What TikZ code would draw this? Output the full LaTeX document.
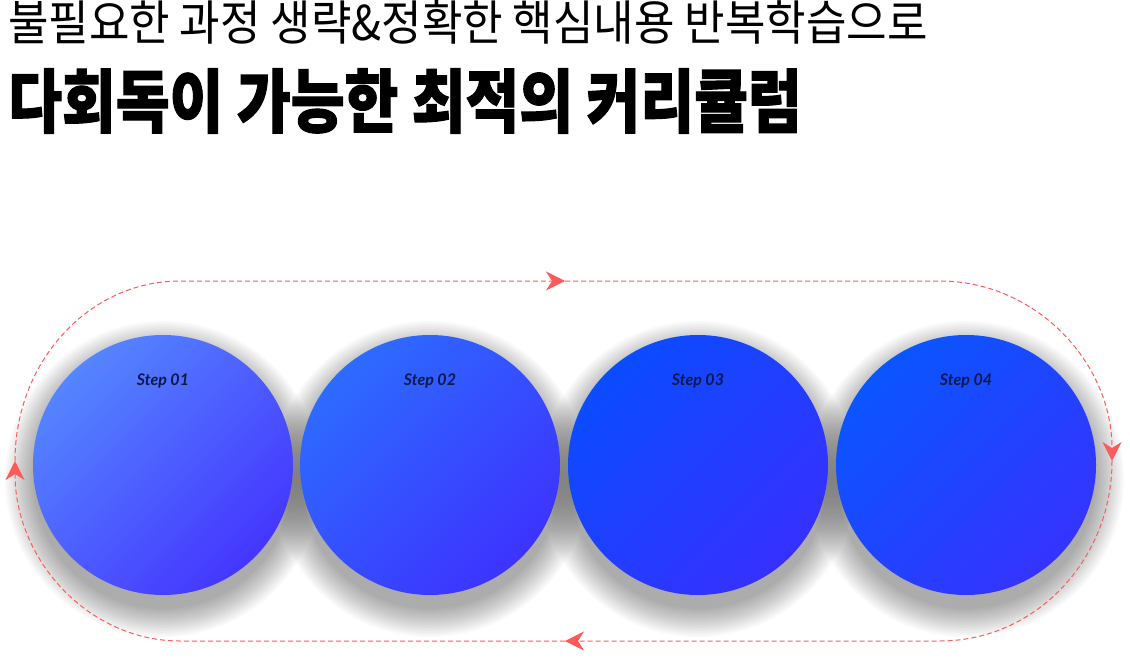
\documentclass[tikz,border=0pt]{standalone}
\usepackage{fontspec}
\usepackage{graphicx}
\newfontfamily\krfont{Noto Sans CJK KR}
\newfontfamily\krheavy{Noto Sans CJK KR}[BoldFeatures={FakeBold=1.6}]
\newfontfamily\stepfont{Lato}
\usetikzlibrary{arrows.meta}

\definecolor{looped}{HTML}{FF5A5A}
\definecolor{stepink}{HTML}{0B1A4A}
\definecolor{oneA}{HTML}{5585FF}
\definecolor{oneB}{HTML}{4436FF}
\definecolor{twoA}{HTML}{2D6BFF}
\definecolor{twoB}{HTML}{3D33FF}
\definecolor{threeA}{HTML}{0B4CFF}
\definecolor{threeB}{HTML}{3630FF}
\definecolor{fourA}{HTML}{0A55FF}
\definecolor{fourB}{HTML}{3533FF}

\begin{document}
\begin{tikzpicture}[%
        x = 1pt, y = -1pt,
        stepball/.style = {circle, minimum size=260pt, inner sep=0pt},
        steplabel/.style = {font=\stepfont\bfseries\itshape\fontsize{16}{16}\selectfont, text=stepink},
        softshadow/.style = {fill=black, fill opacity=0.022},
        loop/.style = {draw=looped, line width=1pt, dash pattern=on 5pt off 3pt,
                       -{Stealth[length=19pt, width=19pt, inset=6pt]}}
    ]
      \fill[white] (0,0) rectangle (1130,669);
      \useasboundingbox (0,0) rectangle (1130,669);
      % titles
      \node (sub) [anchor=west, inner sep=0pt] at (8,22)
        {\scalebox{1}[1.09]{\krfont\fontsize{44}{44}\selectfont 불필요한 과정 생략\&정확한 핵심내용 반복학습으로}};
      \node (title) [anchor=west, inner sep=0pt] at (8,101)
        {\scalebox{1}[1.18]{\krheavy\bfseries\fontsize{58.5}{58.5}\selectfont 다회독이 가능한 최적의 커리큘럼}};
      % shadows
      \foreach \cx in {163,430,698,966}
        \foreach \r in {130,132,...,158}
          \fill[softshadow] (\cx,479) circle [radius=\r pt];
      % steps
      \node (s1) [stepball, top color=oneA, bottom color=oneB, shading angle=45] at (163,465) {};
      \node (s2) [stepball, top color=twoA, bottom color=twoB, shading angle=45] at (430,465) {};
      \node (s3) [stepball, top color=threeA, bottom color=threeB, shading angle=45] at (698,465) {};
      \node (s4) [stepball, top color=fourA, bottom color=fourB, shading angle=45] at (966,465) {};
      \node (t1) [steplabel] at (163,381) {Step 01};
      \node (t2) [steplabel] at (430,381) {Step 02};
      \node (t3) [steplabel] at (698,381) {Step 03};
      \node (t4) [steplabel] at (966,381) {Step 04};
      % loop
      \coordinate (bm) at (565,641);
      \coordinate (bl) at (180,641);
      \coordinate (lm) at (15,461);
      \coordinate (tl) at (180,281);
      \coordinate (tm) at (565,281);
      \coordinate (tr) at (940,281);
      \coordinate (rm) at (1112,461);
      \coordinate (br) at (940,641);
      \draw[loop] (bm) -- (bl) arc [start angle=270, end angle=180, x radius=165pt, y radius=180pt];
      \draw[loop] (lm) arc [start angle=180, end angle=90, x radius=165pt, y radius=180pt] -- (tm);
      \draw[loop] (tm) -- (tr) arc [start angle=90, end angle=0, x radius=172pt, y radius=180pt];
      \draw[loop] (rm) arc [start angle=0, end angle=-90, x radius=172pt, y radius=180pt] -- (bm);
    \end{tikzpicture}
\end{document}
